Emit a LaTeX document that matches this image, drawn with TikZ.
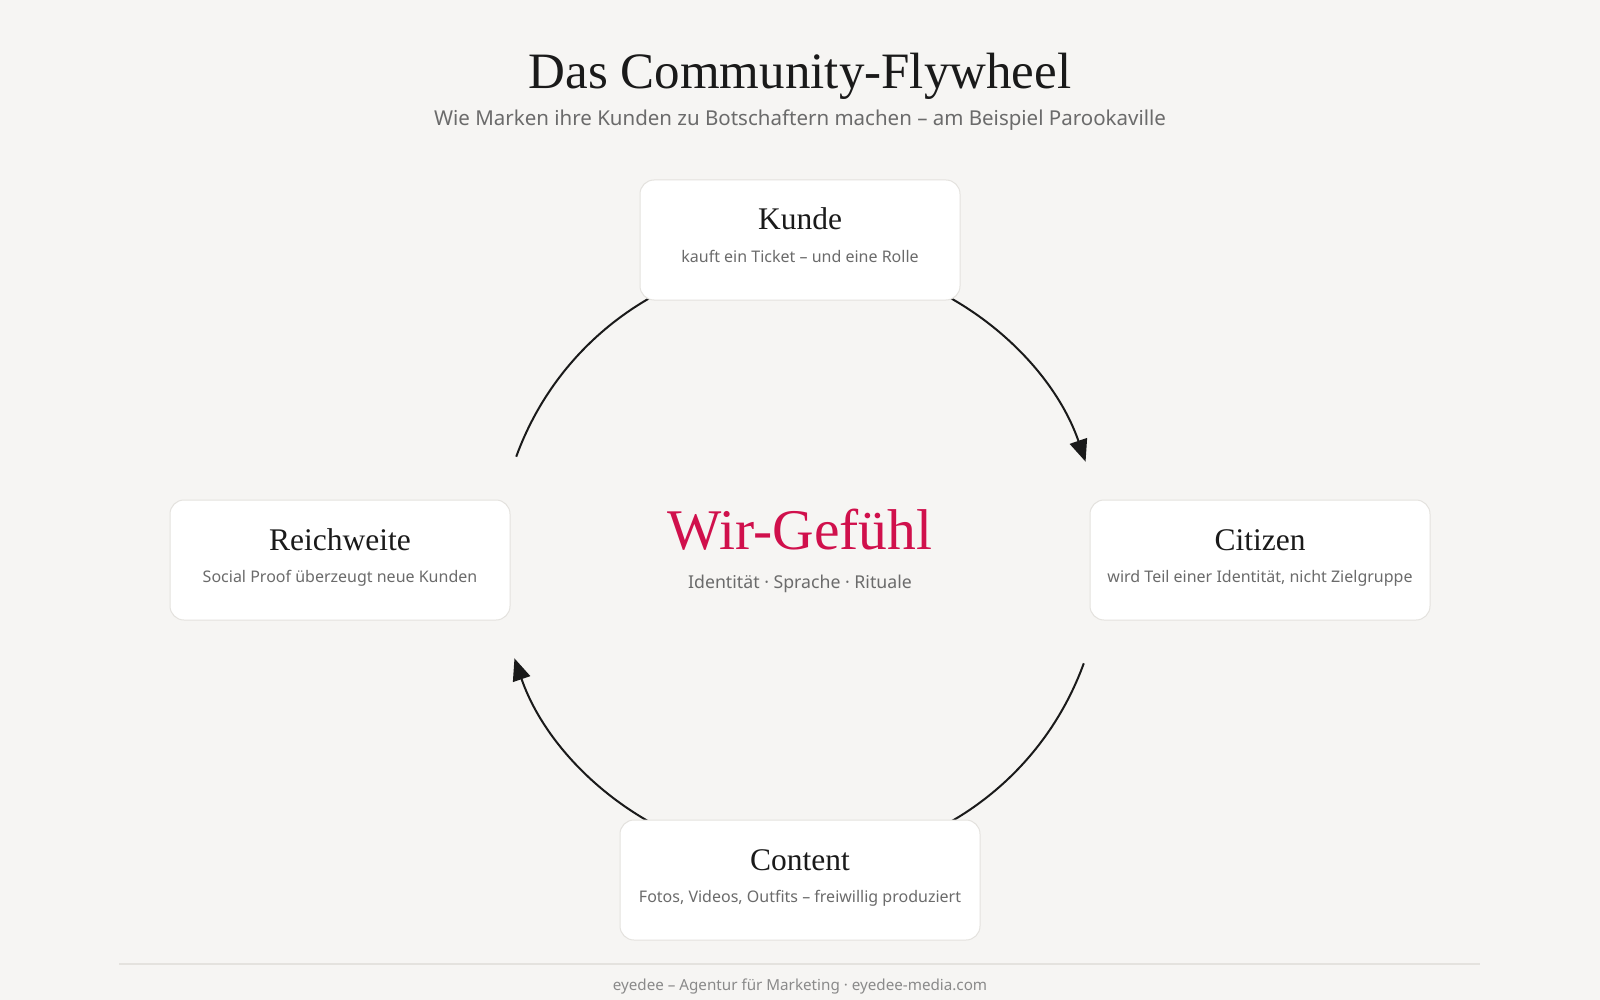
\documentclass[tikz,border=0pt]{standalone}
\usepackage{fontspec}
\setmainfont{Liberation Serif}
\newfontfamily\uisans{Noto Sans}
\usetikzlibrary{arrows.meta}
\definecolor{bg}{HTML}{F6F5F3}
\definecolor{ink}{HTML}{1A1A1A}
\definecolor{muted}{HTML}{6B6B6B}
\definecolor{faint}{HTML}{8A8A8A}
\definecolor{rim}{HTML}{E4E2DE}
\definecolor{accent}{HTML}{D0104C}
\tikzset{
  card/.style={draw=rim, line width=1pt, fill=white, rounded corners=14pt, inner sep=0pt, minimum height=120pt},
  cardhead/.style={anchor=base, text=ink, font=\fontsize{31.5}{37}\selectfont, inner sep=0pt},
  cardsub/.style={anchor=base, text=muted, font=\uisans\fontsize{16}{19}\selectfont, inner sep=0pt},
  flow/.style={draw=ink, line width=2pt, -{Triangle[length=22pt, width=18pt]}},
}
\begin{document}
\begin{tikzpicture}[x=1pt, y=-1pt]
\fill[bg] (0,0) rectangle (1600,1000);
\useasboundingbox (0,0) rectangle (1600,1000);

\coordinate (c) at (800,560);

% wheel arcs (drawn below the cards)
\draw[flow] ([shift={(-160:302)}]c) arc[start angle=-160, end angle=-19, radius=302];
\draw[flow] ([shift={(20:302)}]c) arc[start angle=20, end angle=161, radius=302];

% title
\node[anchor=base, text=ink, font=\fontsize{51}{61}\selectfont, inner sep=0pt] (title) at (800,89) {Das Community-Flywheel};
\node[anchor=base, text=muted, font=\uisans\fontsize{20.5}{24}\selectfont, inner sep=0pt] (subtitle) at (800,126) {Wie Marken ihre Kunden zu Botschaftern machen – am Beispiel Parookaville};

% cards
\node[card, minimum width=320pt] (kunde) at (800,240) {};
\node[cardhead] (kundeH) at (800,230) {Kunde};
\node[cardsub] (kundeS) at (800,262) {kauft ein Ticket – und eine Rolle};

\node[card, minimum width=340pt] (citizen) at (1260,560) {};
\node[cardhead] (citizenH) at (1260,550) {Citizen};
\node[cardsub] (citizenS) at (1260,582) {wird Teil einer Identität, nicht Zielgruppe};

\node[card, minimum width=360pt] (content) at (800,880) {};
\node[cardhead] (contentH) at (800,870) {Content};
\node[cardsub] (contentS) at (800,902) {Fotos, Videos, Outfits – freiwillig produziert};

\node[card, minimum width=340pt] (reich) at (340,560) {};
\node[cardhead] (reichH) at (340,550) {Reichweite};
\node[cardsub] (reichS) at (340,582) {Social Proof überzeugt neue Kunden};

% centre
\node[anchor=base, text=accent, font=\fontsize{57.5}{68}\selectfont, inner sep=0pt] (wir) at (800,549) {Wir-Gefühl};
\node[anchor=base, text=muted, font=\uisans\fontsize{17.7}{21}\selectfont, inner sep=0pt] (wirS) at (800,588) {Identität · Sprache · Rituale};

% footer
\coordinate (fl) at (119,964);
\coordinate (fr) at (1480,964);
\draw[rim, line width=2pt] (fl) -- (fr);
\node[anchor=base, text=faint, font=\uisans\fontsize{15.2}{18}\selectfont, inner sep=0pt] (footer) at (800,990) {eyedee – Agentur für Marketing · eyedee-media.com};
\end{tikzpicture}
\end{document}
